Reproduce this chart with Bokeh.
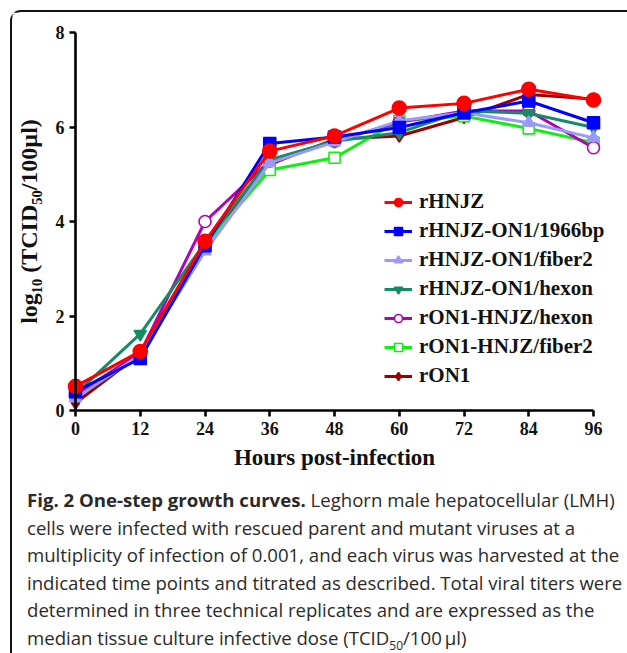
from bokeh.plotting import figure
from bokeh.models import Legend, LegendItem, Div, FixedTicker, Label
from bokeh.layouts import column
from bokeh.embed import file_html
from bokeh.resources import INLINE

hours = [0, 12, 24, 36, 48, 60, 72, 84, 96]
y_ticks = [0, 2, 4, 6, 8]

rHNJZ = [0.51, 1.25, 3.58, 5.49, 5.81, 6.40, 6.50, 6.80, 6.57]
rHNJZ_ON1_1966bp = [0.40, 1.10, 3.49, 5.65, 5.79, 5.99, 6.30, 6.55, 6.09]
rHNJZ_ON1_fiber2 = [0.26, 1.18, 3.37, 5.24, 5.68, 6.13, 6.30, 6.09, 5.77]
rHNJZ_ON1_hexon = [0.35, 1.62, 3.55, 5.31, 5.70, 5.88, 6.34, 6.29, 5.99]
rON1_HNJZ_hexon = [0.33, 1.22, 4.00, 5.28, 5.70, 6.10, 6.34, 6.34, 5.56]
rON1_HNJZ_fiber2 = [0.35, 1.20, 3.50, 5.09, 5.35, 6.13, 6.23, 5.97, 5.67]
rON1 = [0.16, 1.20, 3.55, 5.21, 5.74, 5.81, 6.20, 6.69, 6.59]

names = ["rHNJZ", "rHNJZ-ON1/1966bp", "rHNJZ-ON1/fiber2", "rHNJZ-ON1/hexon",
         "rON1-HNJZ/hexon", "rON1-HNJZ/fiber2", "rON1"]
series = [rHNJZ, rHNJZ_ON1_1966bp, rHNJZ_ON1_fiber2, rHNJZ_ON1_hexon,
          rON1_HNJZ_hexon, rON1_HNJZ_fiber2, rON1]
colors = ["#ff0000", "#0000ff", "#9999ff", "#168c66", "#b000bb", "#11ee11", "#990000"]
markers = ["circle", "square", "triangle", "inverted_triangle", "circle", "square", "diamond"]
sizes = [14, 12, 12, 12, 12, 11, 12]
filled = [True, True, True, True, False, False, True]

SERIF = "Liberation Serif"

p = figure(width=615, height=460, x_range=(-11.68, 102.3), y_range=(-1.312, 8.381),
           output_backend="svg", toolbar_location=None,
           min_border_left=0, min_border_right=0, min_border_top=2, min_border_bottom=0)
p.xgrid.visible = False
p.ygrid.visible = False
p.outline_line_color = None
p.background_fill_color = "white"
p.border_fill_color = "white"

renderers = {}
for i in reversed(range(len(names))):
    ln = p.line(hours, series[i], line_color=colors[i], line_width=3)
    sc = p.scatter(hours, series[i], marker=markers[i], size=sizes[i],
                   line_color=colors[i], line_width=1.6,
                   fill_color=colors[i] if filled[i] else "white")
    renderers[i] = [ln, sc]

legend = Legend(items=[LegendItem(label=names[i], renderers=renderers[i]) for i in range(len(names))],
                location=(372, 84), padding=0, margin=0, spacing=4,
                glyph_width=28, glyph_height=20, label_height=20, label_standoff=7,
                label_text_font=SERIF, label_text_font_style="bold", label_text_font_size="21px",
                label_text_color="#111111",
                background_fill_alpha=0, border_line_alpha=0)
p.add_layout(legend)

xa = p.xaxis[0]
xa.ticker = FixedTicker(ticks=hours)
xa.bounds = (0, 96)
xa.fixed_location = 0
ya = p.yaxis[0]
ya.ticker = FixedTicker(ticks=y_ticks)
ya.bounds = (0, 8)
ya.fixed_location = 0
ya.axis_label = "log\u2081\u2080 (TCID\u2085\u2080/100\u00b5l)"
for ax in (xa, ya):
    ax.axis_line_width = 2.6
    ax.axis_line_color = "black"
    ax.major_tick_line_width = 2.6
    ax.major_tick_line_color = "black"
    ax.major_tick_out = 6
    ax.major_tick_in = 0
    ax.minor_tick_line_color = None
    ax.major_label_text_font = SERIF
    ax.major_label_text_font_style = "bold"
    ax.major_label_text_font_size = "18px"
    ax.major_label_text_color = "#111111"
    ax.axis_label_text_font = SERIF
    ax.axis_label_text_font_style = "bold"
    ax.axis_label_text_font_size = "24px"
    ax.axis_label_text_color = "#111111"
xa.major_label_standoff = 5
ya.major_label_standoff = 5
ya.axis_label_standoff = 11

x_title = Label(x=48, y=15, x_units="data", y_units="screen", text="Hours post-infection",
                text_align="center", text_baseline="middle", text_font=SERIF,
                text_font_style="bold", text_font_size="23px", text_color="#111111")
p.add_layout(x_title)

caption = Div(
    text=("<b>Fig. 2 One-step growth curves.</b> Leghorn male hepatocellular (LMH)<br>"
          "cells were infected with rescued parent and mutant viruses at a<br>"
          "multiplicity of infection of 0.001, and each virus was harvested at the<br>"
          "indicated time points and titrated as described. Total viral titers were<br>"
          "determined in three technical replicates and are expressed as the<br>"
          "median tissue culture infective dose (TCID<sub style='font-size:12px'>50</sub>/100\u2009\u00b5l)"),
    width=600, margin=(14, 0, 0, 15),
    styles={"font-family": "Open Sans", "font-size": "18.6px", "line-height": "27.5px",
            "color": "#2a2a2a", "white-space": "nowrap"})

layout = column(p, caption, margin=(10, 0, 0, 10), spacing=0,
                styles={"border-left": "2px solid #111", "border-top": "2px solid #111",
                        "border-top-left-radius": "11px", "background": "white"})

open("out.html", "w").write(file_html(layout, INLINE))
